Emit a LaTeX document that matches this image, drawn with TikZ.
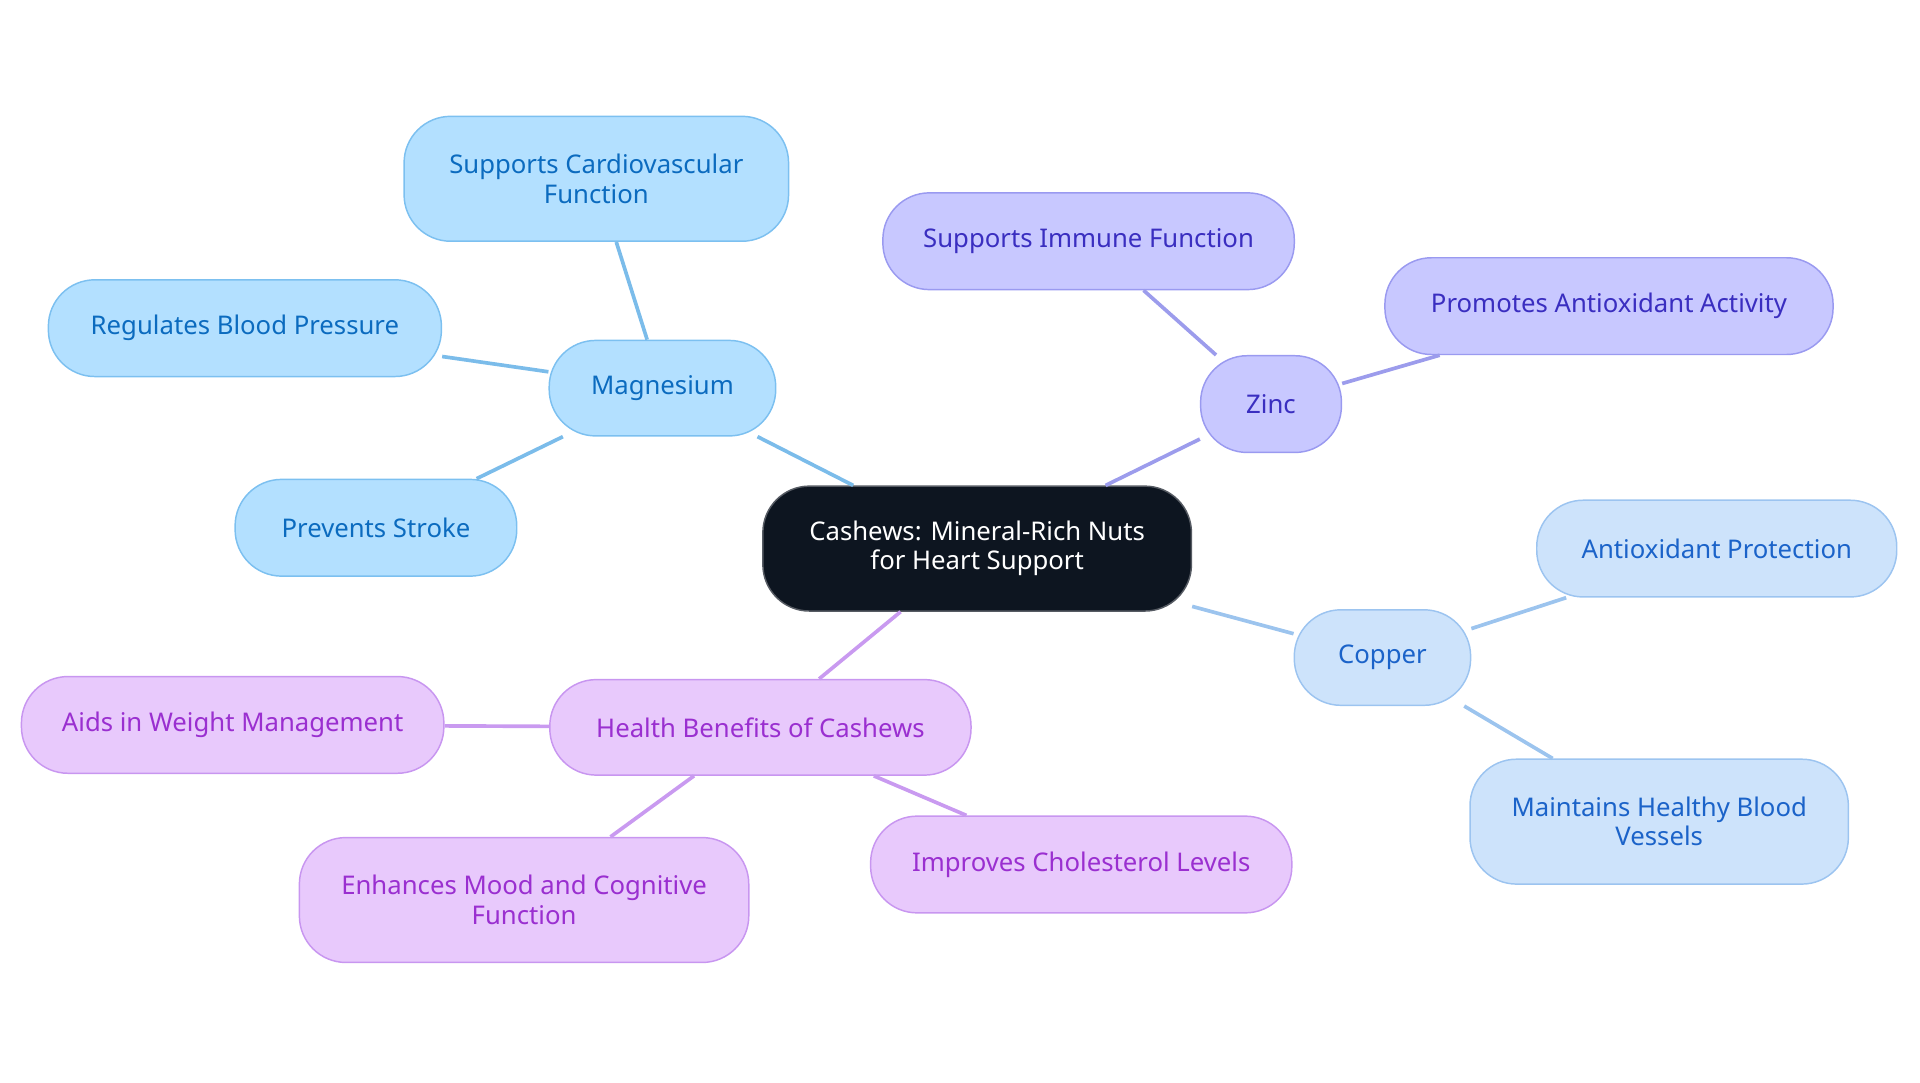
\documentclass[tikz,border=0pt]{standalone}
\usepackage{fontspec}
\setmainfont{Noto Sans}
\begin{document}
\definecolor{bF}{HTML}{B3E0FF}\definecolor{bS}{HTML}{7CC0F0}\definecolor{bT}{HTML}{0B6BBF}\definecolor{bL}{HTML}{7BBCEA}
\definecolor{zF}{HTML}{C8C8FF}\definecolor{zS}{HTML}{9A9AF0}\definecolor{zT}{HTML}{3A2EC0}\definecolor{zL}{HTML}{9C9CEC}
\definecolor{cF}{HTML}{CDE3FB}\definecolor{cS}{HTML}{9CC4F0}\definecolor{cT}{HTML}{1B63C9}\definecolor{cL}{HTML}{9CC4EE}
\definecolor{pF}{HTML}{E8C9FC}\definecolor{pS}{HTML}{C896F0}\definecolor{pT}{HTML}{9A2FD0}\definecolor{pL}{HTML}{C99AF0}
\definecolor{kF}{HTML}{0D1520}
\begin{tikzpicture}[x=0.5pt,y=-0.5pt,
 box/.style n args={2}{draw,rounded corners=19pt,minimum width=#1*0.5pt,minimum height=#2*0.5pt,align=center,font=\fontsize{10.5pt}{12pt}\selectfont,inner sep=0pt,line width=0.6pt},
 B/.style={fill=bF,draw=bS,text=bT},Z/.style={fill=zF,draw=zS,text=zT},
 C/.style={fill=cF,draw=cS,text=cT},P/.style={fill=pF,draw=pS,text=pT},
 e/.style={line width=1.5pt}]
\useasboundingbox (0,0) rectangle (1568,884);
\node[box={350}{102},fill=kF,draw=kF!70!white,text=white] (c) at (798,448) {Cashews: Mineral-Rich Nuts\\for Heart Support};
\node[box={185}{78},B] (m) at (541,317) {Magnesium};
\node[box={314}{102},B] (m1) at (487,146) {Supports Cardiovascular\\Function};
\node[box={321}{79},B] (m2) at (200,268) {Regulates Blood Pressure};
\node[box={230}{79},B] (m3) at (307,431) {Prevents Stroke};
\node[box={115}{79},Z] (z) at (1038,330) {Zinc};
\node[box={336}{79},Z] (z1) at (889,197) {Supports Immune Function};
\node[box={366}{79},Z] (z2) at (1314,250) {Promotes Antioxidant Activity};
\node[box={144}{78},C] (k) at (1129,537) {Copper};
\node[box={294}{79},C] (k1) at (1402,448) {Antioxidant Protection};
\node[box={309}{102},C] (k2) at (1355,671) {Maintains Healthy Blood\\Vessels};
\node[box={344}{78},P] (h) at (621,594) {Health Benefits of Cashews};
\node[box={345}{79},P] (h1) at (190,592) {Aids in Weight Management};
\node[box={367}{102},P] (h2) at (428,735) {Enhances Mood and Cognitive\\Function};
\node[box={344}{79},P] (h3) at (883,706) {Improves Cholesterol Levels};
\begin{scope}[on background layer/.style={}]
\end{scope}
\draw[e,bL] (c) -- (m); \draw[e,bL] (m) -- (m1); \draw[e,bL] (m) -- (m2); \draw[e,bL] (m) -- (m3);
\draw[e,zL] (c) -- (z); \draw[e,zL] (z) -- (z1); \draw[e,zL] (z) -- (z2);
\draw[e,cL] (c) -- (k); \draw[e,cL] (k) -- (k1); \draw[e,cL] (k) -- (k2);
\draw[e,pL] (c) -- (h); \draw[e,pL] (h) -- (h1); \draw[e,pL] (h) -- (h2); \draw[e,pL] (h) -- (h3);
\end{tikzpicture}
\end{document}
